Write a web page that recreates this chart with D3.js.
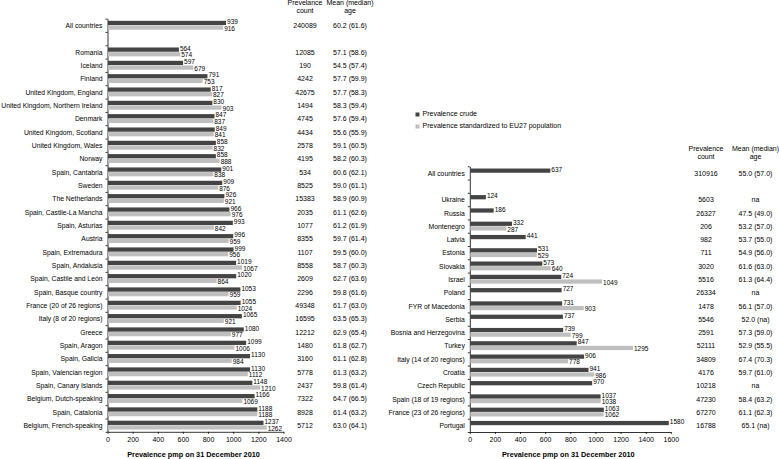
<!DOCTYPE html>
<html>
<head>
<meta charset="utf-8">
<script src="https://cdn.jsdelivr.net/npm/d3@7"></script>
<style>
  body { margin: 0; background: #fff; }
  svg { font-family: "Liberation Sans", Arial, sans-serif; }
  .axis path, .axis line { stroke: #000; stroke-width: 0.8; }
  .axis text { font-size: 7px; fill: #000; }
</style>
</head>
<body>
<svg id="chart" width="779" height="459"></svg>
<script>
// left panel: EU countries / regions
const leftNames = ["All countries", "", "Romania", "Iceland", "Finland", "United Kingdom, England",
  "United Kingdom, Northern Ireland", "Denmark", "United Kingdom, Scotland", "United Kingdom, Wales",
  "Norway", "Spain, Cantabria", "Sweden", "The Netherlands", "Spain, Castile-La Mancha",
  "Spain, Asturias", "Austria", "Spain, Extremadura", "Spain, Andalusia", "Spain, Castile and León",
  "Spain, Basque country", "France (20 of 26 regions)", "Italy (8 of 20 regions)", "Greece",
  "Spain, Aragon", "Spain, Galicia", "Spain, Valencian region", "Spain, Canary Islands",
  "Belgium, Dutch-speaking", "Spain, Catalonia", "Belgium, French-speaking"];
const leftCrude = [939, null, 564, 597, 791, 817, 830, 847, 849, 858, 858, 901, 909, 926, 966, 993,
  996, 999, 1019, 1020, 1053, 1055, 1065, 1080, 1099, 1130, 1130, 1148, 1166, 1188, 1237];
const leftStd = [916, null, 574, 679, 753, 827, 903, 837, 841, 832, 888, 838, 876, 921, 976, 842,
  959, 956, 1067, 864, 959, 1024, 921, 977, 1006, 984, 1112, 1210, 1069, 1188, 1262];
const leftCount = ["240089", "", "12085", "190", "4242", "42675", "1494", "4745", "4434", "2578",
  "4195", "534", "8525", "15383", "2035", "1077", "8355", "1107", "8558", "2609", "2296", "49348",
  "16595", "12212", "1480", "3160", "5778", "2437", "7322", "8928", "5712"];
const leftAge = ["60.2 (61.6)", "", "57.1 (58.6)", "54.5 (57.4)", "57.7 (59.9)", "57.7 (58.3)",
  "58.3 (59.4)", "57.6 (59.4)", "55.6 (55.9)", "59.1 (60.5)", "58.2 (60.3)", "60.6 (62.1)",
  "59.0 (61.1)", "58.9 (60.9)", "61.1 (62.6)", "61.2 (61.9)", "59.7 (61.4)", "59.5 (60.0)",
  "58.7 (60.3)", "62.7 (63.6)", "59.8 (61.6)", "61.7 (63.0)", "63.5 (65.3)", "62.9 (65.4)",
  "61.8 (62.7)", "61.1 (62.8)", "61.3 (63.2)", "59.8 (61.4)", "64.7 (66.5)", "61.4 (63.2)",
  "63.0 (64.1)"];
const leftTicks = [0, 200, 400, 600, 800, 1000, 1200, 1400];

// right panel: other countries
const rightNames = ["All countries", "", "Ukraine", "Russia", "Montenegro", "Latvia", "Estonia",
  "Slovakia", "Israel", "Poland", "FYR of Macedonia", "Serbia", "Bosnia and Herzegovina", "Turkey",
  "Italy (14 of 20 regions)", "Croatia", "Czech Republic", "Spain (18 of 19 regions)",
  "France (23 of 26 regions)", "Portugal"];
const rightCrude = [637, null, 124, 186, 332, 441, 531, 573, 724, 727, 731, 737, 739, 847, 906,
  941, 970, 1037, 1063, 1580];
const rightStd = [null, null, null, null, 287, null, 529, 640, 1049, null, 903, null, 799, 1295,
  778, 986, null, 1038, 1062, null];
const rightCount = ["310916", "", "5603", "26327", "206", "982", "711", "3020", "5516", "26334",
  "1478", "5546", "2591", "52111", "34809", "4176", "10218", "47230", "67270", "16788"];
const rightAge = ["55.0 (57.0)", "", "na", "47.5 (49.0)", "53.2 (57.0)", "53.7 (55.0)",
  "54.9 (56.0)", "61.6 (63.0)", "61.3 (64.4)", "na", "56.1 (57.0)", "52.0 (na)", "57.3 (59.0)",
  "52.9 (55.5)", "67.4 (70.3)", "59.7 (61.0)", "na", "58.4 (63.2)", "61.1 (62.3)", "65.1 (na)"];
const rightTicks = [0, 200, 400, 600, 800, 1000, 1200, 1400, 1600];

const seriesNames = ["Prevalence crude", "Prevalence standardized to EU27 population"];
const colors = ["#444444", "#bfbfbf"];

const svg = d3.select("#chart");

function panel(p) {
  const n = p.names.length;
  const rows = p.names.map((name, i) => ({
    i, name, crude: p.crude[i], std: p.std[i], count: p.count[i], age: p.age[i]
  }));
  const x = d3.scaleLinear().domain([0, p.max]).range([p.x0, p.x1]);
  const y = d3.scaleBand().domain(d3.range(n)).range([p.top, p.bottom]);
  const inner = d3.scaleBand().domain(["crude", "std"]).range([0, y.bandwidth()])
    .paddingInner(0.08).paddingOuter(0.48);
  const slots = d3.scaleLinear().domain([0, n]).range([p.top, p.bottom]);

  const g = svg.append("g");

  // y axis with a tick at every slot boundary
  g.append("g").attr("class", "axis")
    .attr("transform", `translate(${p.x0},0)`)
    .call(d3.axisLeft(slots).tickValues(d3.range(n + 1)).tickFormat("").tickSize(2).tickSizeOuter(0));

  // x axis
  g.append("g").attr("class", "axis")
    .attr("transform", `translate(0,${p.bottom})`)
    .call(d3.axisBottom(x).tickValues(p.ticks).tickFormat(d3.format("d"))
      .tickSize(2).tickSizeOuter(0).tickPadding(3));

  g.append("text")
    .attr("x", (p.x0 + p.x1) / 2 - 2).attr("y", 457)
    .attr("text-anchor", "middle").attr("font-size", 7.3).attr("font-weight", "bold")
    .text("Prevalence pmp on 31 December 2010");

  const row = g.selectAll("g.row").data(rows.filter(r => r.name)).join("g")
    .attr("class", "row")
    .attr("transform", d => `translate(0,${y(d.i)})`);

  row.append("text")
    .attr("x", p.x0 - 5).attr("y", y.bandwidth() / 2 + 1)
    .attr("text-anchor", "end").attr("dominant-baseline", "middle").attr("font-size", 6.8)
    .text(d => d.name);

  ["crude", "std"].forEach((k, s) => {
    const r = row.filter(d => d[k] != null);
    r.append("rect")
      .attr("x", p.x0 + 0.5).attr("y", inner(k))
      .attr("width", d => x(d[k]) - p.x0).attr("height", inner.bandwidth())
      .attr("fill", colors[s]);
    r.append("text")
      .attr("x", d => x(d[k]) + 1.5)
      .attr("y", inner(k) + inner.bandwidth() / 2 + (s === 0 ? -0.6 : 1.4))
      .attr("dominant-baseline", "middle").attr("font-size", 6.5)
      .text(d => d[k]);
  });

  // table columns
  const cols = [[p.countX, "count", p.countHead], [p.ageX, "age", ["Mean (median)", "age"]]];
  cols.forEach(([cx, key, head]) => {
    row.append("text")
      .attr("x", cx).attr("y", y.bandwidth() / 2 + 1)
      .attr("text-anchor", "middle").attr("dominant-baseline", "middle").attr("font-size", 7)
      .text(d => d[key]);
    head.forEach((h, j) => {
      g.append("text")
        .attr("x", cx).attr("y", p.headY + j * 7.5)
        .attr("text-anchor", "middle").attr("dominant-baseline", "middle").attr("font-size", 7)
        .text(h);
    });
  });
}

panel({ names: leftNames, crude: leftCrude, std: leftStd, count: leftCount, age: leftAge,
  ticks: leftTicks, max: 1400, x0: 107.5, x1: 283.5, top: 18.6, bottom: 431.8,
  countX: 305, ageX: 350, headY: 3.5, countHead: ["Prevelance", "count"] });

panel({ names: rightNames, crude: rightCrude, std: rightStd, count: rightCount, age: rightAge,
  ticks: rightTicks, max: 1600, x0: 469.8, x1: 670.8, top: 166.3, bottom: 432,
  countX: 706, ageX: 755.5, headY: 149.5, countHead: ["Prevalence", "count"] });

// legend
const legend = svg.append("g").attr("transform", "translate(415.5,114.5)");
seriesNames.forEach((s, i) => {
  legend.append("rect").attr("x", 0).attr("y", i * 12 - 2).attr("width", 4).attr("height", 4)
    .attr("fill", colors[i]);
  legend.append("text").attr("x", 7).attr("y", i * 12)
    .attr("dominant-baseline", "middle").attr("font-size", 7).text(s);
});
</script>
</body>
</html>
